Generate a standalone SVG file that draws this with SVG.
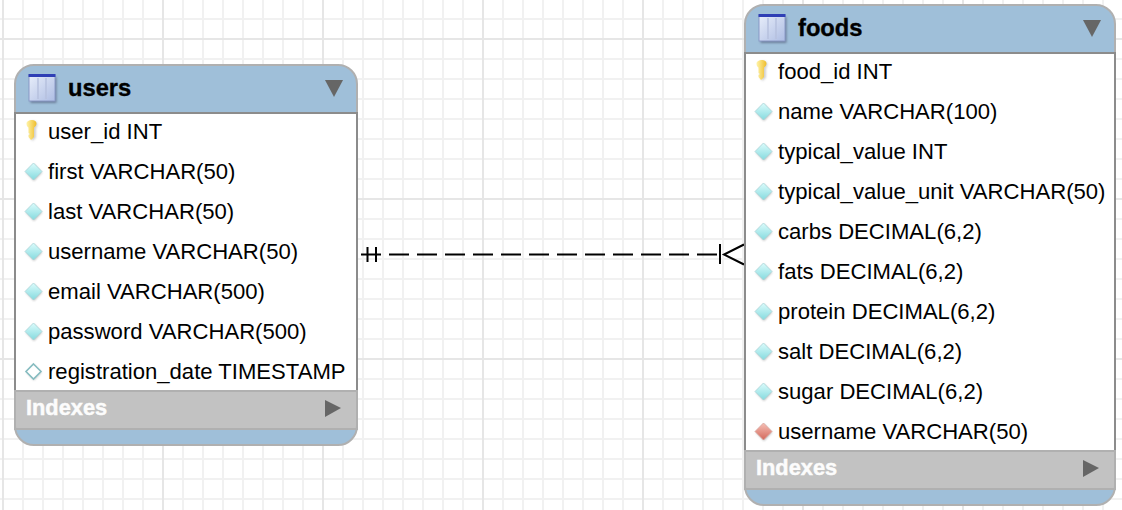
<svg xmlns="http://www.w3.org/2000/svg" width="1122" height="510" viewBox="0 0 1122 510">
<style>
.row{font:22.1px "Liberation Sans",Arial,sans-serif;fill:#000}
.title{font:bold 23.7px "Liberation Sans",Arial,sans-serif;fill:#000;stroke:#000;stroke-width:.35}
.idx{font:bold 21.8px "Liberation Sans",Arial,sans-serif;fill:#fcfcfc;stroke:#fcfcfc;stroke-width:.45}
.minor{stroke:#f1f1f1;stroke-width:2;fill:none}
.major{stroke:#e6e6e6;stroke-width:2;fill:none}
.conn{fill:none;stroke:#000;stroke-width:2}
</style>
<defs>
<linearGradient id="ig" x1="0" y1="0" x2="1" y2="1"><stop offset="0" stop-color="#e8eefa"/><stop offset="1" stop-color="#aebde3"/></linearGradient>
<linearGradient id="kg" x1="0" y1="0" x2="1" y2="0"><stop offset="0" stop-color="#fff4a8"/><stop offset="1" stop-color="#efbd2c"/></linearGradient>
<linearGradient id="dg" x1="0" y1="0" x2="0" y2="1"><stop offset="0" stop-color="#dcfcfc"/><stop offset="1" stop-color="#85dade"/></linearGradient>
<linearGradient id="rg" x1="0" y1="0" x2="0" y2="1"><stop offset="0" stop-color="#f6c0b6"/><stop offset="1" stop-color="#d3675a"/></linearGradient>
<filter id="soft" x="-30%" y="-30%" width="160%" height="160%"><feGaussianBlur stdDeviation=".9"/></filter>
<g id="tblicon">
<rect x="1.500" y="2" width="26" height="26" fill="#4a5270" opacity=".6" filter="url(#soft)"/>
<rect x="0" y="0" width="26" height="26" fill="url(#ig)" stroke="#8a9ac8"/>
<rect x="-.5" y="-1" width="27" height="3" fill="#2f3fb5"/>
<path d="M9 3V24M17 3V24" stroke="#b6c1de" stroke-width="1.500"/>
</g>
<g id="key">
<path d="M-2.500-1.500V7L0 11 3.500 7.500V-1.500L5-5C5-7.500 3-9 .5-9S-4-7.500-4-5Z" fill="#888" opacity=".4" filter="url(#soft)" transform="translate(1 .5)"/>
<path d="M-3-2V3.500L-1.500 4.500-3 5.500V7.500L-.5 10.500 2.500 7.500V-2C4-3 5-4.500 5-6 5-8 3-9.500 .5-9.500S-5-8-5-6C-5-4.500-4.500-3-3-2Z" fill="url(#kg)"/>
</g>
<g id="dia"><path d="M.5-7.500L8.500 1 .5 9.500-7.500 1z" fill="#666" opacity=".45" filter="url(#soft)"/><path d="M0-8.500L8.500 0 0 8.500-8.500 0z" fill="url(#dg)" stroke="#a8d4d8" stroke-width=".8"/></g>
<g id="dia0"><path d="M.5-7L8 1 .5 9-7 1z" fill="#666" opacity=".35" filter="url(#soft)"/><path d="M0-7.500L7.500 0 0 7.500-7.500 0z" fill="#fff" stroke="#86bcc0" stroke-width="1.600"/></g>
<g id="diaf"><path d="M.5-7.500L8.500 1 .5 9.500-7.500 1z" fill="#666" opacity=".45" filter="url(#soft)"/><path d="M0-8.500L8.500 0 0 8.500-8.500 0z" fill="url(#rg)" stroke="#d9a49c" stroke-width=".8"/></g>
</defs>
<rect width="1122" height="510" fill="#fff"/>
<path class="minor" d="M23 0V510M43 0V510M63 0V510M83 0V510M103 0V510M123 0V510M143 0V510M183 0V510M203 0V510M223 0V510M243 0V510M263 0V510M283 0V510M303 0V510M343 0V510M363 0V510M383 0V510M403 0V510M423 0V510M443 0V510M463 0V510M503 0V510M523 0V510M543 0V510M563 0V510M583 0V510M603 0V510M623 0V510M663 0V510M683 0V510M703 0V510M723 0V510M743 0V510M763 0V510M783 0V510M823 0V510M843 0V510M863 0V510M883 0V510M903 0V510M923 0V510M943 0V510M983 0V510M1003 0V510M1023 0V510M1043 0V510M1063 0V510M1083 0V510M1103 0V510"/>
<path class="minor" d="M0 19H1122M0 59H1122M0 79H1122M0 99H1122M0 119H1122M0 139H1122M0 159H1122M0 179H1122M0 219H1122M0 239H1122M0 259H1122M0 279H1122M0 299H1122M0 319H1122M0 339H1122M0 379H1122M0 399H1122M0 419H1122M0 439H1122M0 459H1122M0 479H1122M0 499H1122"/>
<path class="major" d="M3 0V510M163 0V510M323 0V510M483 0V510M643 0V510M803 0V510M963 0V510M1123 0V510M0 39H1122M0 199H1122M0 359H1122"/>
<g id="connectors">
<path class="conn" d="M361 254.500H381M367.500 247V262M376 247V262"/>
<path class="conn" d="M389 254.500H717" stroke-dasharray="20 8"/>
<path class="conn" d="M720 244V264M744 244.500L724 254.500 744 264.500"/>
</g>
<g id="users">
<path d="M15 113V84A19 19 0 0 1 34 65H338A19 19 0 0 1 357 84V113Z" fill="#9fbfd9" stroke="#b0b0b0" stroke-width="2"/>
<rect x="15" y="113" width="342" height="278" fill="#fff" stroke="#8c8c8c" stroke-width="2"/>
<rect x="15" y="391" width="342" height="38" fill="#c2c2c2" stroke="#b0b0b0" stroke-width="2"/>
<path d="M15 429H357V426A19 19 0 0 1 338 445H34A19 19 0 0 1 15 426Z" fill="#9fbfd9" stroke="#b0b0b0" stroke-width="2"/>
<use href="#tblicon" x="29" y="75"/>
<text class="title" x="68" y="96">users</text>
<path d="M325 80H343L334 97Z" fill="#666"/>
<use href="#key" x="31.500" y="129.500"/>
<text class="row" x="48" y="139">user_id INT</text>
<use href="#dia" x="33.500" y="171.500"/><text class="row" x="48" y="179">first VARCHAR(50)</text>
<use href="#dia" x="33.500" y="211.500"/><text class="row" x="48" y="219">last VARCHAR(50)</text>
<use href="#dia" x="33.500" y="251.500"/><text class="row" x="48" y="259">username VARCHAR(50)</text>
<use href="#dia" x="33.500" y="291.500"/><text class="row" x="48" y="299">email VARCHAR(500)</text>
<use href="#dia" x="33.500" y="331.500"/><text class="row" x="48" y="339">password VARCHAR(500)</text>
<use href="#dia0" x="33.500" y="371.500"/><text class="row" x="48" y="379">registration_date TIMESTAMP</text>
<text class="idx" x="26" y="415">Indexes</text>
<path d="M325 400L341 408 325 417Z" fill="#666"/>
</g>
<g id="foods">
<path d="M745 53V24A19 19 0 0 1 764 5H1096A19 19 0 0 1 1115 24V53Z" fill="#9fbfd9" stroke="#b0b0b0" stroke-width="2"/>
<rect x="745" y="53" width="370" height="398" fill="#fff" stroke="#8c8c8c" stroke-width="2"/>
<rect x="745" y="451" width="370" height="38" fill="#c2c2c2" stroke="#b0b0b0" stroke-width="2"/>
<path d="M745 489H1115V486A19 19 0 0 1 1096 505H764A19 19 0 0 1 745 486Z" fill="#9fbfd9" stroke="#b0b0b0" stroke-width="2"/>
<use href="#tblicon" x="759" y="15"/>
<text class="title" x="798" y="36">foods</text>
<path d="M1083 20H1101L1092 37Z" fill="#666"/>
<use href="#key" x="761.500" y="69.500"/>
<text class="row" x="778" y="79">food_id INT</text>
<use href="#dia" x="763.500" y="111.500"/><text class="row" x="778" y="119">name VARCHAR(100)</text>
<use href="#dia" x="763.500" y="151.500"/><text class="row" x="778" y="159">typical_value INT</text>
<use href="#dia" x="763.500" y="191.500"/><text class="row" x="778" y="199">typical_value_unit VARCHAR(50)</text>
<use href="#dia" x="763.500" y="231.500"/><text class="row" x="778" y="239">carbs DECIMAL(6,2)</text>
<use href="#dia" x="763.500" y="271.500"/><text class="row" x="778" y="279">fats DECIMAL(6,2)</text>
<use href="#dia" x="763.500" y="311.500"/><text class="row" x="778" y="319">protein DECIMAL(6,2)</text>
<use href="#dia" x="763.500" y="351.500"/><text class="row" x="778" y="359">salt DECIMAL(6,2)</text>
<use href="#dia" x="763.500" y="391.500"/><text class="row" x="778" y="399">sugar DECIMAL(6,2)</text>
<use href="#diaf" x="763.500" y="431.500"/><text class="row" x="778" y="439">username VARCHAR(50)</text>
<text class="idx" x="756" y="475">Indexes</text>
<path d="M1083 460L1099 468 1083 477Z" fill="#666"/>
</g>
</svg>
